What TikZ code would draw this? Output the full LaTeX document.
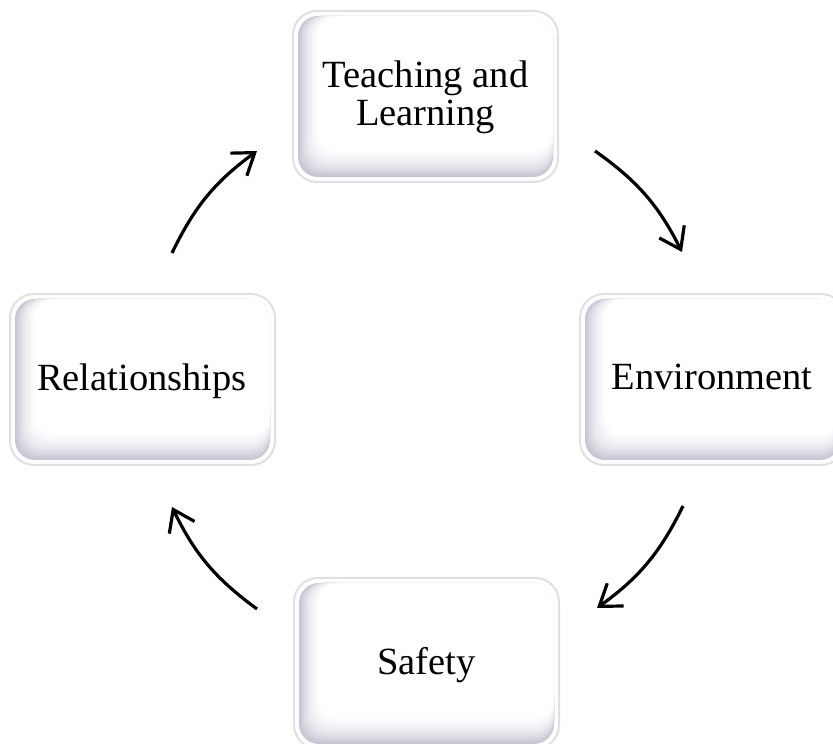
\documentclass[tikz,border=0pt]{standalone}
\usepackage{fontspec}
\setmainfont{Liberation Serif}
\usetikzlibrary{arrows.meta}
\definecolor{shadeC}{RGB}{198,198,212}
\definecolor{rimC}{RGB}{224,224,228}
\tikzset{
  boxtext/.style={font=\fontsize{38.5}{38}\selectfont, align=center, text=black, inner sep=0pt},
  cyc/.style={line width=3.2pt, -{Straight Barb[length=20pt,width=28pt,line width=3.2pt]}, bend left=14},
}
\newcommand\btnbox[4]{%
  \draw[rimC, line width=2pt, fill=white, rounded corners=24pt] (#1,#2) rectangle (#3,#4);
  \foreach \i in {0,...,16}{
    \pgfmathsetmacro\p{100*(1-\i/16)^1.8}
    \fill[shadeC!\p!white, rounded corners=20pt] (#1+5+1.4*\i, #2+5+1.8*\i) rectangle (#3-5, #4-5);
  }
}
\begin{document}
\begin{tikzpicture}[x=1pt,y=1pt]
\useasboundingbox (0,0) rectangle (833,744);
\clip (0,0) rectangle (833,744);
% boxes
\btnbox{293}{562}{558}{733}
\btnbox{10}{279}{275}{450}
\btnbox{580}{279}{845}{450}
\btnbox{294}{-5}{559}{166}
% texts
\node[boxtext] (teach) at (425.5,646.5) {Teaching and\\Learning};
\node[boxtext, anchor=base] (rel) at (142,353) {Relationships};
\node[boxtext, anchor=base] (env) at (712,354) {Environment};
\node[boxtext, anchor=base] (saf) at (426.5,69) {Safety};
% arrow ends
\coordinate (a1s) at (172,491);
\coordinate (a1e) at (257,593);
\coordinate (a2s) at (595,593);
\coordinate (a2e) at (682,492);
\coordinate (a3s) at (683,238);
\coordinate (a3e) at (597,136);
\coordinate (a4s) at (257,135);
\coordinate (a4e) at (172,237);
\draw[cyc] (a1s) to (a1e);
\draw[cyc] (a2s) to (a2e);
\draw[cyc] (a3s) to (a3e);
\draw[cyc] (a4s) to (a4e);
\end{tikzpicture}
\end{document}
